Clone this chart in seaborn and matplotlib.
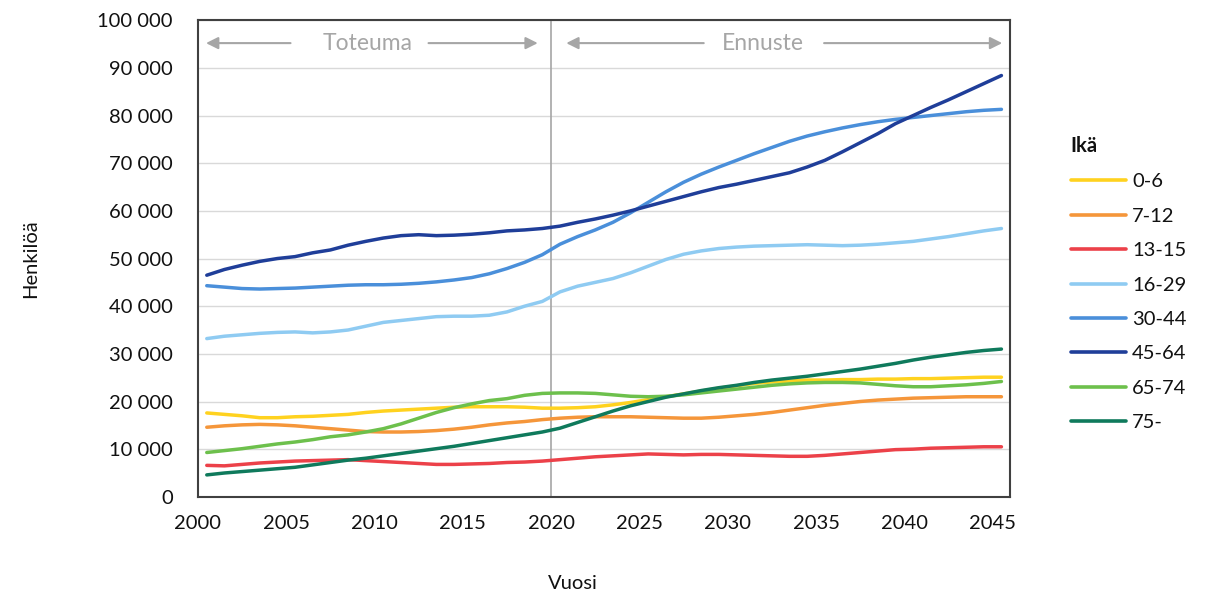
import numpy as np
import pandas as pd
import seaborn as sns
import matplotlib.pyplot as plt

# vuodet ja ikäryhmät (henkilöä, tuhansina luettu kuvasta)
years = list(range(2000, 2046))
groups = ['0-6', '7-12', '13-15', '16-29', '30-44', '45-64', '65-74', '75-']

age_0_6 = [17.6, 17.3, 17.0, 16.6, 16.6, 16.8, 16.9, 17.1, 17.3, 17.7,
           18.0, 18.2, 18.4, 18.6, 18.8, 18.9, 18.9, 18.9, 18.8, 18.6,
           18.6, 18.7, 18.9, 19.3, 19.8, 20.4, 21.0, 21.6, 22.2, 22.8,
           23.3, 23.8, 24.1, 24.3, 24.5, 24.5, 24.6, 24.6, 24.7, 24.7,
           24.8, 24.8, 24.9, 25.0, 25.1, 25.1]
age_7_12 = [14.6, 14.9, 15.1, 15.2, 15.1, 14.9, 14.6, 14.3, 14.0, 13.7,
            13.6, 13.6, 13.7, 13.9, 14.2, 14.6, 15.1, 15.5, 15.8, 16.2,
            16.5, 16.7, 16.8, 16.8, 16.8, 16.7, 16.6, 16.5, 16.5, 16.7,
            17.0, 17.3, 17.7, 18.2, 18.7, 19.2, 19.6, 20.0, 20.3, 20.5,
            20.7, 20.8, 20.9, 21.0, 21.0, 21.0]
age_13_15 = [6.6, 6.5, 6.8, 7.1, 7.3, 7.5, 7.6, 7.7, 7.8, 7.6,
             7.4, 7.2, 7.0, 6.8, 6.8, 6.9, 7.0, 7.2, 7.3, 7.5,
             7.8, 8.1, 8.4, 8.6, 8.8, 9.0, 8.9, 8.8, 8.9, 8.9,
             8.8, 8.7, 8.6, 8.5, 8.5, 8.7, 9.0, 9.3, 9.6, 9.9,
             10.0, 10.2, 10.3, 10.4, 10.5, 10.5]
age_16_29 = [33.2, 33.7, 34.0, 34.3, 34.5, 34.6, 34.4, 34.6, 35.0, 35.8,
             36.6, 37.0, 37.4, 37.8, 37.9, 37.9, 38.1, 38.8, 40.0, 41.0,
             43.0, 44.2, 45.0, 45.8, 47.0, 48.4, 49.8, 50.9, 51.6, 52.1,
             52.4, 52.6, 52.7, 52.8, 52.9, 52.8, 52.7, 52.8, 53.0, 53.3,
             53.6, 54.1, 54.6, 55.2, 55.8, 56.3]
age_30_44 = [44.3, 44.0, 43.7, 43.6, 43.7, 43.8, 44.0, 44.2, 44.4, 44.5,
             44.5, 44.6, 44.8, 45.1, 45.5, 46.0, 46.8, 47.9, 49.2, 50.8,
             53.0, 54.6, 56.0, 57.6, 59.6, 61.8, 64.0, 66.0, 67.7, 69.2,
             70.6, 72.0, 73.3, 74.6, 75.7, 76.6, 77.4, 78.1, 78.7, 79.2,
             79.6, 80.0, 80.4, 80.8, 81.1, 81.3]
age_45_64 = [46.5, 47.7, 48.6, 49.4, 50.0, 50.4, 51.2, 51.8, 52.8, 53.6,
             54.3, 54.8, 55.0, 54.8, 54.9, 55.1, 55.4, 55.8, 56.0, 56.3,
             56.8, 57.6, 58.3, 59.1, 60.0, 61.0, 62.0, 63.0, 64.0, 64.9,
             65.6, 66.4, 67.2, 68.0, 69.2, 70.6, 72.4, 74.3, 76.2, 78.3,
             80.0, 81.7, 83.3, 85.0, 86.7, 88.4]
age_65_74 = [9.3, 9.7, 10.1, 10.6, 11.1, 11.5, 12.0, 12.6, 13.0, 13.6,
             14.3, 15.3, 16.5, 17.7, 18.7, 19.5, 20.2, 20.6, 21.3, 21.7,
             21.8, 21.8, 21.7, 21.4, 21.1, 21.0, 21.1, 21.4, 21.8, 22.2,
             22.6, 23.0, 23.4, 23.7, 23.9, 24.0, 24.0, 23.9, 23.6, 23.3,
             23.1, 23.1, 23.3, 23.5, 23.8, 24.2]
age_75 = [4.6, 5.0, 5.3, 5.6, 5.9, 6.2, 6.7, 7.2, 7.7, 8.1,
          8.6, 9.1, 9.6, 10.1, 10.6, 11.2, 11.8, 12.4, 13.0, 13.6,
          14.4, 15.6, 16.8, 18.0, 19.1, 20.0, 20.9, 21.6, 22.3, 22.9,
          23.4, 24.0, 24.5, 24.9, 25.3, 25.8, 26.3, 26.8, 27.4, 28.0,
          28.7, 29.3, 29.8, 30.3, 30.7, 31.0]

colors = ['#FFD21F', '#F5963A', '#EC4149', '#8FCBF2',
          '#4A8FDA', '#1F3E99', '#6DC04C', '#0F7A5C']

# pitkä muoto seabornia varten
series = [age_0_6, age_7_12, age_13_15, age_16_29,
          age_30_44, age_45_64, age_65_74, age_75]
rows = []
for g, vals in zip(groups, series):
    for y, v in zip(years, vals):
        rows.append({'Vuosi': y, 'Henkilöä': v * 1000, 'Ikä': g})
df = pd.DataFrame(rows)

sns.set_style('white')
plt.rcParams['font.family'] = ['Lato', 'DejaVu Sans']
fs = 14.5
txt = '#111111'

fig = plt.figure(figsize=(12.07, 5.95), dpi=100)
ax = fig.add_axes([0.164, 0.165, 0.673, 0.801])

sns.lineplot(data=df, x='Vuosi', y='Henkilöä', hue='Ikä', hue_order=groups,
             palette=colors, linewidth=2.5, ax=ax, legend=True)

# Excel-tyylinen kategoria-akseli: tikit kategorioiden välissä
ax.set_xlim(1999.5, 2045.5)
ax.set_ylim(0, 100000)
tick_years = list(range(2000, 2046, 5))
ax.set_xticks([t - 0.5 for t in tick_years])
ax.set_xticklabels([str(t) for t in tick_years])
ax.set_yticks(range(0, 100001, 10000))
ax.set_yticklabels([f'{v:,}'.replace(',', ' ') for v in range(0, 100001, 10000)])
ax.tick_params(axis='x', length=6, width=1.2, color='#404040', labelsize=fs, pad=7)
ax.tick_params(axis='y', length=0, labelsize=fs, pad=18)
for lab in ax.get_xticklabels() + ax.get_yticklabels():
    lab.set_color(txt)

ax.grid(axis='y', color='#d9d9d9', linewidth=1)
ax.grid(axis='x', visible=False)
ax.set_axisbelow(True)
for s in ax.spines.values():
    s.set_color('#404040')
    s.set_linewidth(1.5)

# toteuma / ennuste -raja
ax.axvline(2019.5, color='#a6a6a6', linewidth=1.2, zorder=1)

ax.set_xlabel('Vuosi', fontsize=fs, color=txt)
ax.set_ylabel('Henkilöä', fontsize=fs, color=txt)
ax.xaxis.set_label_coords(0.462, -0.165)
ax.yaxis.set_label_coords(-0.195, 0.5)

# nuolet ylhäällä
arrow_y = 95200
grey = '#a6a6a6'
arrow_kw = dict(arrowstyle='-|>', color=grey, lw=1.5, mutation_scale=18)
ax.annotate('', xy=(1999.8, arrow_y), xytext=(2004.9, arrow_y), arrowprops=arrow_kw)
ax.annotate('', xy=(2018.9, arrow_y), xytext=(2012.4, arrow_y), arrowprops=arrow_kw)
ax.text(2009.1, arrow_y, 'Toteuma', color=grey, fontsize=16.5, ha='center', va='center')
ax.annotate('', xy=(2020.2, arrow_y), xytext=(2028.3, arrow_y), arrowprops=arrow_kw)
ax.annotate('', xy=(2045.2, arrow_y), xytext=(2034.8, arrow_y), arrowprops=arrow_kw)
ax.text(2031.5, arrow_y, 'Ennuste', color=grey, fontsize=16.5, ha='center', va='center')

leg = ax.legend(loc='upper left', bbox_to_anchor=(0.872, 0.802),
                bbox_transform=fig.transFigure, frameon=False, fontsize=fs,
                title='Ikä', title_fontproperties={'weight': 'bold', 'size': fs},
                alignment='left', handlelength=2.75, handletextpad=0.3,
                labelspacing=0.86)
for line in leg.get_lines():
    line.set_linewidth(2.6)
for t in leg.get_texts():
    t.set_color(txt)
leg.get_title().set_color(txt)

fig.savefig('out.png', dpi=100)
